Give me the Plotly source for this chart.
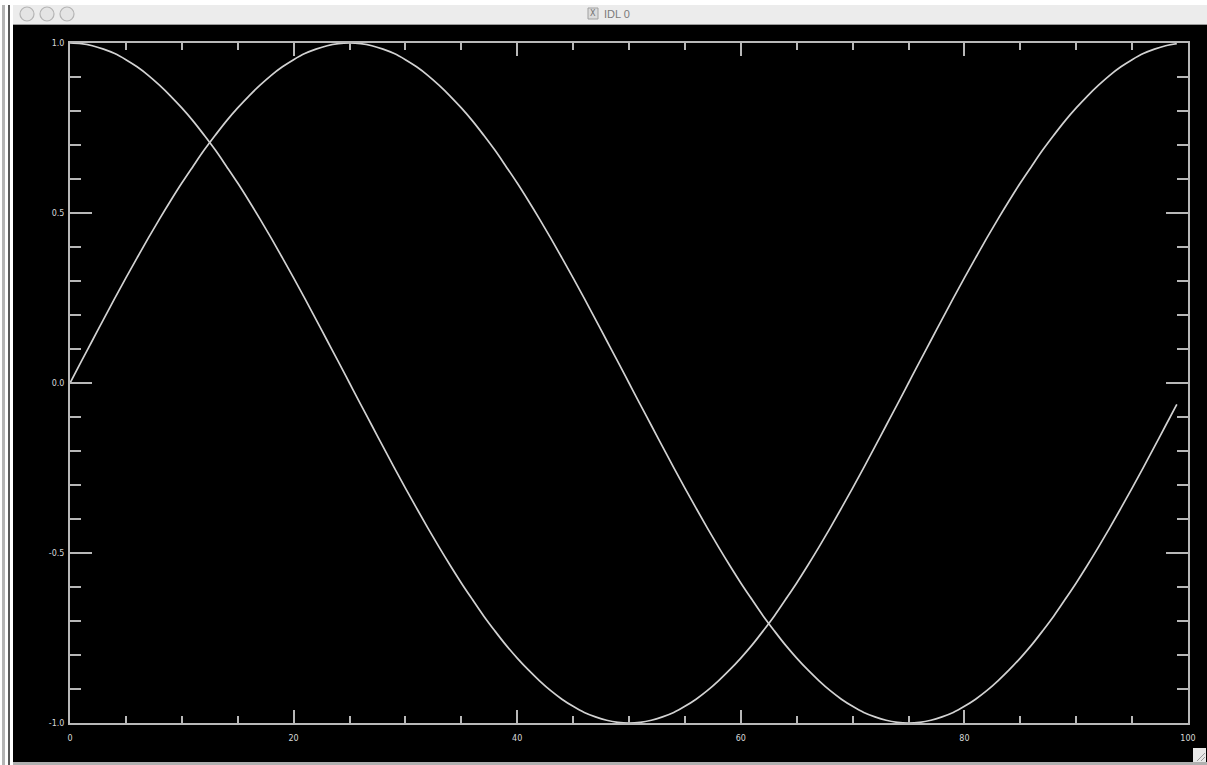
import plotly.graph_objects as go

# Sample index along the x axis
sample_index = list(range(100))

# First curve: starts at 0, peaks at 25, bottoms at 75
wave_a = [
    0.000, 0.063, 0.125, 0.187, 0.249, 0.309, 0.368, 0.426, 0.482, 0.536,
    0.588, 0.637, 0.685, 0.729, 0.771, 0.809, 0.844, 0.876, 0.905, 0.930,
    0.951, 0.969, 0.982, 0.992, 0.998, 1.000, 0.998, 0.992, 0.982, 0.969,
    0.951, 0.930, 0.905, 0.876, 0.844, 0.809, 0.771, 0.729, 0.685, 0.637,
    0.588, 0.536, 0.482, 0.426, 0.368, 0.309, 0.249, 0.187, 0.125, 0.063,
    0.000, -0.063, -0.125, -0.187, -0.249, -0.309, -0.368, -0.426, -0.482, -0.536,
    -0.588, -0.637, -0.685, -0.729, -0.771, -0.809, -0.844, -0.876, -0.905, -0.930,
    -0.951, -0.969, -0.982, -0.992, -0.998, -1.000, -0.998, -0.992, -0.982, -0.969,
    -0.951, -0.930, -0.905, -0.876, -0.844, -0.809, -0.771, -0.729, -0.685, -0.637,
    -0.588, -0.536, -0.482, -0.426, -0.368, -0.309, -0.249, -0.187, -0.125, -0.063,
]

# Second curve: starts at 1, bottoms at 50, back up near 1 at the end
wave_b = [
    1.000, 0.998, 0.992, 0.982, 0.969, 0.951, 0.930, 0.905, 0.876, 0.844,
    0.809, 0.771, 0.729, 0.685, 0.637, 0.588, 0.536, 0.482, 0.426, 0.368,
    0.309, 0.249, 0.187, 0.125, 0.063, 0.000, -0.063, -0.125, -0.187, -0.249,
    -0.309, -0.368, -0.426, -0.482, -0.536, -0.588, -0.637, -0.685, -0.729, -0.771,
    -0.809, -0.844, -0.876, -0.905, -0.930, -0.951, -0.969, -0.982, -0.992, -0.998,
    -1.000, -0.998, -0.992, -0.982, -0.969, -0.951, -0.930, -0.905, -0.876, -0.844,
    -0.809, -0.771, -0.729, -0.685, -0.637, -0.588, -0.536, -0.482, -0.426, -0.368,
    -0.309, -0.249, -0.187, -0.125, -0.063, 0.000, 0.063, 0.125, 0.187, 0.249,
    0.309, 0.368, 0.426, 0.482, 0.536, 0.588, 0.637, 0.685, 0.729, 0.771,
    0.809, 0.844, 0.876, 0.905, 0.930, 0.951, 0.969, 0.982, 0.992, 0.998,
]

x_ticks = [0, 20, 40, 60, 80, 100]
x_labels = ["0", "20", "40", "60", "80", "100"]
y_ticks = [-1.0, -0.5, 0.0, 0.5, 1.0]
y_labels = ["-1.0", "-0.5", "0.0", "0.5", "1.0"]

W, H = 1207, 765
ML, MR, MT, MB = 70, 19, 43, 42
PW, PH = W - ML - MR, H - MT - MB

LINE = "#d2d2d2"
AXIS = "#b8b8b8"


def px(x):
    return (x - ML) / PW


def py(y):
    return (H - MB - y) / PH


fig = go.Figure()
for ys in (wave_a, wave_b):
    fig.add_trace(go.Scatter(x=sample_index, y=ys, mode="lines",
                             line=dict(color=LINE, width=1.7, shape="spline"),
                             showlegend=False, hoverinfo="skip"))

axis_common = dict(showline=True, linecolor=AXIS, linewidth=2, mirror="allticks",
                   ticks="inside", tickcolor=AXIS, tickwidth=1.5,
                   showgrid=False, zeroline=False,
                   tickfont=dict(family="DejaVu Sans", size=8, color="#d8d8d8"))

fig.update_xaxes(range=[0, 100], tickvals=x_ticks, ticktext=x_labels,
                 ticklen=13, ticklabelstandoff=6,
                 minor=dict(dtick=5, ticklen=7, ticks="inside", tickcolor=AXIS,
                            tickwidth=1.5, showgrid=False),
                 **axis_common)
fig.update_yaxes(range=[-1, 1], tickvals=y_ticks, ticktext=y_labels,
                 ticklen=22, ticklabelstandoff=2,
                 minor=dict(dtick=0.1, ticklen=11, ticks="inside", tickcolor=AXIS,
                            tickwidth=1.5, showgrid=False),
                 **axis_common)

shapes = []


def rect(x0, y0, x1, y1, fill, line=None):
    shapes.append(dict(type="rect", xref="paper", yref="paper",
                       x0=px(x0), x1=px(x1), y0=py(y1), y1=py(y0),
                       fillcolor=fill, line=dict(width=0) if line is None else line,
                       layer="above"))


# Window frame around the graphics area
rect(0, 0, 13, H, "white")
rect(2, 0, 5, H, "#b4b4b4")
rect(8, 0, 10, H, "#5a5a5a")
rect(0, 0, W, 5, "white")
rect(13, 5, W, 24, "#ececec")
rect(13, 24, W, 25, "#9a9a9a")
rect(13, 762, W, H, "#b0b0b0")
# resize grip
rect(1193, 748, 1206, 762, "#e8e8e8")
for d in (4, 8):
    shapes.append(dict(type="line", xref="paper", yref="paper",
                       x0=px(1205 - d), y0=py(761), x1=px(1205), y1=py(761 - d),
                       line=dict(color="#9a9a9a", width=1), layer="above"))
# window buttons
for cx in (27, 47, 67):
    shapes.append(dict(type="circle", xref="paper", yref="paper",
                       x0=px(cx - 7), x1=px(cx + 7), y0=py(21), y1=py(7),
                       fillcolor="#e4e4e4", line=dict(color="#b4b4b4", width=1.2),
                       layer="above"))
# title icon
rect(588, 8, 598, 19, "#dcdcdc", dict(color="#a0a0a0", width=1))

fig.update_layout(
    width=W, height=H,
    margin=dict(l=ML, r=MR, t=MT, b=MB),
    paper_bgcolor="black", plot_bgcolor="black",
    shapes=shapes,
    annotations=[
        dict(text="IDL 0", xref="paper", yref="paper", x=px(602), y=py(14),
             xanchor="left", yanchor="middle", showarrow=False,
             font=dict(family="Liberation Sans", size=11, color="#7a7a7a")),
        dict(text="X", xref="paper", yref="paper", x=px(593), y=py(14),
             xanchor="center", yanchor="middle", showarrow=False,
             font=dict(family="DejaVu Sans", size=8, color="#707070")),
    ],
)

fig.write_html("out.html")
